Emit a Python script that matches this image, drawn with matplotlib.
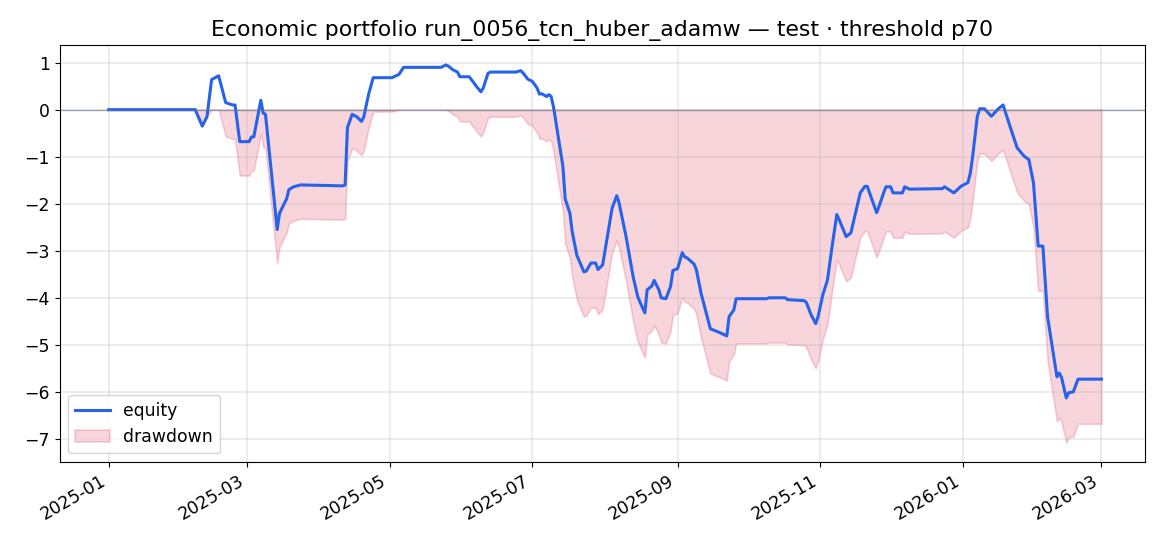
import numpy as np
import pandas as pd
import matplotlib
matplotlib.use("Agg")
from matplotlib import pyplot as plt
import matplotlib.dates as mdates

# equity curve (date, value)
dates = [
    "2025-01-01", "2025-02-07", "2025-02-10", "2025-02-12", "2025-02-14", "2025-02-17",
    "2025-02-20", "2025-02-23", "2025-02-24", "2025-02-26", "2025-03-02", "2025-03-03",
    "2025-03-04", "2025-03-07", "2025-03-08", "2025-03-09", "2025-03-14", "2025-03-15",
    "2025-03-18", "2025-03-19", "2025-03-21", "2025-03-24", "2025-04-11", "2025-04-12",
    "2025-04-13", "2025-04-15", "2025-04-17", "2025-04-19", "2025-04-20", "2025-04-22",
    "2025-04-24", "2025-05-02", "2025-05-05", "2025-05-07", "2025-05-23", "2025-05-25",
    "2025-05-26", "2025-05-28", "2025-05-30", "2025-05-31", "2025-06-04", "2025-06-06",
    "2025-06-07", "2025-06-09", "2025-06-10", "2025-06-12", "2025-06-13", "2025-06-24",
    "2025-06-26", "2025-06-27", "2025-06-29", "2025-07-01", "2025-07-03", "2025-07-04",
    "2025-07-05", "2025-07-07", "2025-07-08", "2025-07-09", "2025-07-10", "2025-07-12",
    "2025-07-14", "2025-07-15", "2025-07-17", "2025-07-18", "2025-07-20", "2025-07-23",
    "2025-07-24", "2025-07-26", "2025-07-28", "2025-07-29", "2025-07-31", "2025-08-02",
    "2025-08-04", "2025-08-06", "2025-08-07", "2025-08-10", "2025-08-13", "2025-08-15",
    "2025-08-16", "2025-08-18", "2025-08-19", "2025-08-21", "2025-08-22", "2025-08-24",
    "2025-08-25", "2025-08-27", "2025-08-29", "2025-08-30", "2025-09-01", "2025-09-03",
    "2025-09-04", "2025-09-05", "2025-09-08", "2025-09-09", "2025-09-11", "2025-09-14",
    "2025-09-15", "2025-09-17", "2025-09-19", "2025-09-22", "2025-09-23", "2025-09-25",
    "2025-09-26", "2025-10-09", "2025-10-10", "2025-10-17", "2025-10-18", "2025-10-25",
    "2025-10-26", "2025-10-28", "2025-10-30", "2025-10-31", "2025-11-02", "2025-11-04",
    "2025-11-06", "2025-11-08", "2025-11-09", "2025-11-12", "2025-11-14", "2025-11-16",
    "2025-11-18", "2025-11-20", "2025-11-21", "2025-11-23", "2025-11-25", "2025-11-26",
    "2025-11-28", "2025-11-29", "2025-12-01", "2025-12-02", "2025-12-06", "2025-12-07",
    "2025-12-09", "2025-12-23", "2025-12-24", "2025-12-28", "2025-12-31", "2026-01-03",
    "2026-01-04", "2026-01-05", "2026-01-07", "2026-01-08", "2026-01-10", "2026-01-13",
    "2026-01-16", "2026-01-18", "2026-01-21", "2026-01-24", "2026-01-27", "2026-01-29",
    "2026-01-31", "2026-02-02", "2026-02-04", "2026-02-06", "2026-02-10", "2026-02-11",
    "2026-02-12", "2026-02-14", "2026-02-15", "2026-02-17", "2026-02-19", "2026-03-01",
]
equity = [
    0.00, 0.00, -0.35, -0.15, 0.64, 0.72,
    0.15, 0.10, 0.10, -0.68, -0.68, -0.58,
    -0.58, 0.20, -0.07, -0.10, -2.55, -2.20,
    -1.90, -1.70, -1.64, -1.60, -1.62, -1.60,
    -0.38, -0.10, -0.15, -0.25, -0.15, 0.32,
    0.68, 0.68, 0.75, 0.90, 0.90, 0.95,
    0.93, 0.85, 0.80, 0.70, 0.70, 0.57,
    0.50, 0.38, 0.46, 0.77, 0.80, 0.80,
    0.83, 0.78, 0.65, 0.60, 0.46, 0.33,
    0.34, 0.28, 0.32, 0.28, 0.06, -0.57,
    -1.20, -1.90, -2.20, -2.60, -3.10, -3.45,
    -3.43, -3.26, -3.26, -3.40, -3.30, -2.70,
    -2.10, -1.83, -1.98, -2.70, -3.55, -3.98,
    -4.10, -4.32, -3.83, -3.75, -3.63, -3.83,
    -4.00, -4.02, -3.76, -3.42, -3.38, -3.04,
    -3.13, -3.15, -3.28, -3.40, -3.90, -4.47,
    -4.66, -4.70, -4.74, -4.81, -4.40, -4.26,
    -4.02, -4.02, -4.00, -4.00, -4.04, -4.06,
    -4.10, -4.36, -4.55, -4.40, -3.94, -3.62,
    -2.90, -2.23, -2.34, -2.70, -2.62, -2.19,
    -1.77, -1.63, -1.63, -1.91, -2.19, -2.06,
    -1.77, -1.64, -1.64, -1.77, -1.77, -1.64,
    -1.69, -1.68, -1.64, -1.77, -1.63, -1.55,
    -1.35, -1.00, -0.14, 0.02, 0.02, -0.14,
    0.02, 0.10, -0.36, -0.81, -0.99, -1.06,
    -1.56, -2.90, -2.90, -4.40, -5.68, -5.60,
    -5.70, -6.13, -6.02, -6.00, -5.73, -5.73,
]

t = pd.to_datetime(dates)
eq = np.array(equity)
dd = eq - np.maximum.accumulate(eq)

plt.rcParams["font.size"] = 12.4

fig = plt.figure(figsize=(11.7, 5.46), dpi=100)
ax = fig.add_axes([0.051, 0.154, 0.928, 0.764])

ax.plot(t, eq, color="#2563eb", lw=2.2, label="equity")
ax.fill_between(t, dd, 0, color="crimson", alpha=0.18, lw=1.2, label="drawdown")
ax.axhline(0, color="#64748b", lw=1.0, alpha=0.6)

ax.set_title("Economic portfolio run_0056_tcn_huber_adamw — test · threshold p70", fontsize=15.8)
ax.grid(alpha=0.3, lw=1.1)
ax.set_xlim(t[0] - pd.Timedelta(days=20.9), t[-1] + pd.Timedelta(days=18.8))
ax.set_ylim(-7.49, 1.38)
ax.xaxis.set_major_locator(mdates.MonthLocator(bymonth=[1, 3, 5, 7, 9, 11]))
ax.xaxis.set_major_formatter(mdates.DateFormatter("%Y-%m"))
for lbl in ax.get_xticklabels():
    lbl.set_rotation(30)
    lbl.set_ha("right")
ax.legend(loc="lower left")

fig.savefig("out.png", dpi=100)
